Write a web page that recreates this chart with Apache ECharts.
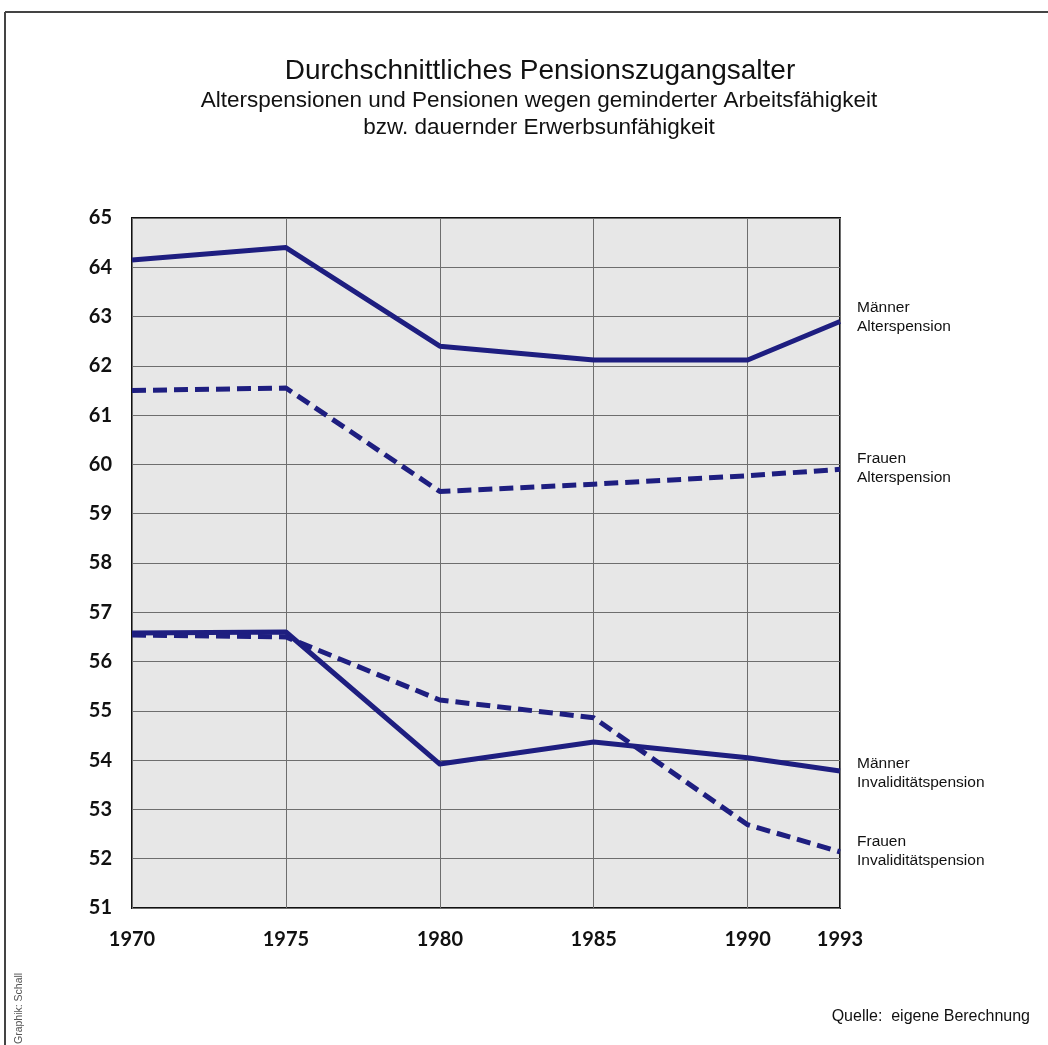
<!DOCTYPE html>
<html><head><meta charset="utf-8">
<script src="https://cdn.jsdelivr.net/npm/echarts@6/dist/echarts.min.js"></script>
<style>html,body{margin:0;padding:0;background:#fff}#c{width:1048px;height:1045px}</style>
</head><body><div id="c"></div>
<script>
const years = [1970, 1975, 1980, 1985, 1990, 1993];
const maennerAlters = [64.15, 64.4, 62.4, 62.12, 62.12, 62.9];
const frauenAlters = [61.5, 61.55, 59.45, 59.6, 59.77, 59.9];
const maennerInval = [56.58, 56.6, 53.92, 54.37, 54.05, 53.78];
const frauenInval = [56.54, 56.5, 55.22, 54.86, 52.69, 52.14];
const seriesNames = ['Männer\nAlterspension', 'Frauen\nAlterspension', 'Männer\nInvaliditätspension', 'Frauen\nInvaliditätspension'];
const yTicks = {min: 51, max: 65, step: 1};

const navy = '#1e1e80';
const chart = echarts.init(document.getElementById('c'), null, {renderer: 'canvas'});
function pairs(vals){ return years.map((y,i)=>[y, vals[i]]); }
function mk(name, vals, dashed, off){
  return {
    name, type: 'line', data: pairs(vals), symbol: 'none', silent: true,
    lineStyle: {color: navy, width: 5, type: dashed ? [14, 7] : 'solid', cap: 'butt', join: 'round'},
    endLabel: {show: true, formatter: name, distance: 17, offset: off, color: '#111',
      fontFamily: 'Liberation Sans', fontSize: 15.5, lineHeight: 19, align: 'left'}
  };
}
chart.setOption({
  animation: false,
  backgroundColor: '#fff',
  title: [
    {text: 'Durchschnittliches Pensionszugangsalter', left: 535, top: 52, textAlign: 'center',
     textStyle: {fontFamily: 'Liberation Sans', fontWeight: 'normal', fontSize: 28, color: '#111'}},
    {text: 'Alterspensionen und Pensionen wegen geminderter Arbeitsfähigkeit\nbzw. dauernder Erwerbsunfähigkeit',
     left: 534, top: 82, textAlign: 'center',
     textStyle: {fontFamily: 'Liberation Sans', fontWeight: 'normal', fontSize: 22.5, lineHeight: 27, color: '#111'}}
  ],
  grid: {left: 132, top: 218, right: 208, bottom: 137, show: true, backgroundColor: '#e7e7e7', borderColor: '#111', borderWidth: 2},
  xAxis: {
    type: 'value', min: years[0], max: years[years.length-1], interval: 5,
    axisLine: {show: false}, axisTick: {show: false},
    splitLine: {show: true, lineStyle: {color: '#6e6e6e', width: 1}},
    axisLabel: {margin: 22, formatter: v => String(v), color: '#111', fontFamily: 'Lato', fontWeight: 'bold', fontSize: 20}
  },
  yAxis: {
    type: 'value', min: yTicks.min, max: yTicks.max, interval: yTicks.step,
    axisLine: {show: false}, axisTick: {show: false},
    splitLine: {show: true, lineStyle: {color: '#6e6e6e', width: 1}},
    axisLabel: {margin: 20, formatter: v => String(v), color: '#111', fontFamily: 'Lato', fontWeight: 'bold', fontSize: 20,
      verticalAlign: 'middle', padding: [0, 0, 14, 0]}
  },
  series: [
    mk(seriesNames[0], maennerAlters, false, [0, -4]),
    mk(seriesNames[1], frauenAlters, true, [0, -1]),
    mk(seriesNames[2], maennerInval, false, [0, 2]),
    mk(seriesNames[3], frauenInval, true, [0, -1])
  ],
  graphic: [
    {type: 'line', shape: {x1: 5, y1: 12, x2: 1048, y2: 12}, style: {stroke: '#444', lineWidth: 2}},
    {type: 'line', shape: {x1: 5, y1: 12, x2: 5, y2: 1045}, style: {stroke: '#444', lineWidth: 2}},
    {type: 'text', x: 14, y: 1044, rotation: Math.PI/2,
     style: {text: 'Graphik: Schall', fill: '#555', fontFamily: 'Liberation Sans', fontSize: 10.5}},
    {type: 'text', right: 18, top: 1009,
     style: {text: 'Quelle:  eigene Berechnung', fill: '#111', fontFamily: 'Liberation Sans', fontSize: 16}}
  ]
});
</script></body></html>
